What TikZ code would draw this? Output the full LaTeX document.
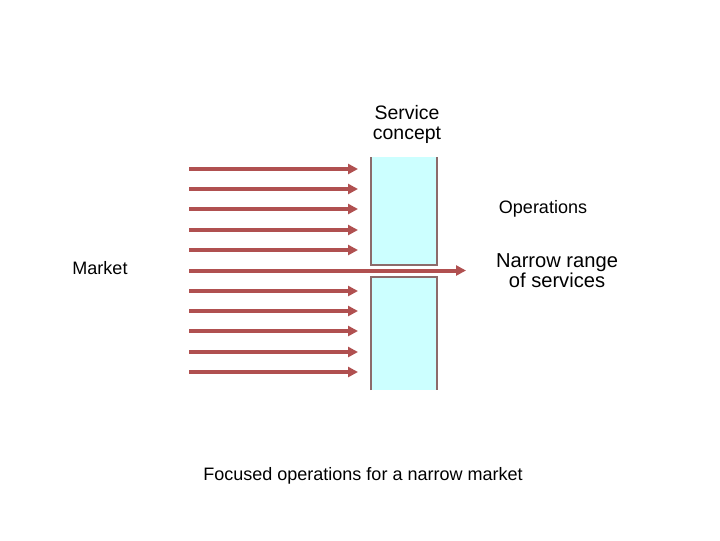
\documentclass[tikz,border=0pt]{standalone}
\usepackage{fontspec}
\setmainfont{Liberation Sans}
\usetikzlibrary{arrows.meta}
\definecolor{arrowred}{RGB}{176,80,80}
\definecolor{boxfill}{RGB}{204,255,255}
\definecolor{boxline}{RGB}{140,107,107}
\begin{document}
\begin{tikzpicture}[x=0.75pt,y=-0.75pt,
  flow/.style={draw=arrowred,line width=3pt,-{Triangle[length=7.5pt,width=7.5pt]}},
  label/.style={font=\fontsize{13.5pt}{14.5pt}\selectfont,align=center,inner sep=0pt},
  biglabel/.style={label,font=\fontsize{14.6pt}{15pt}\selectfont},
  hugelabel/.style={label,font=\fontsize{15.1pt}{15pt}\selectfont}]
\useasboundingbox (0,0) rectangle (720,540);
% boxes
\fill[boxfill] (371,157) rectangle (437,265);
\draw[boxline,line width=0.9pt] (371,157) -- (371,265) -- (437,265) -- (437,157);
\fill[boxfill] (371,277) rectangle (437,390);
\draw[boxline,line width=0.9pt] (371,390) -- (371,277) -- (437,277) -- (437,390);
% texts
\node[biglabel] (sc) at (407,124) {Service\\[0pt]concept};
\node[label] (op) at (543,209) {Operations};
\node[hugelabel] (nr) at (557,271) {Narrow range\\[0pt]of services};
\node[label] (mk) at (100,268) {Market};
\node[label] (fo) at (363,476) {Focused operations for a narrow market};
% arrows
\foreach \i/\y in {1/169,2/189,3/209,4/230,5/250,7/291,8/311,9/331,10/352,11/372}{
  \coordinate (s\i) at (189,\y);
  \coordinate (e\i) at (358,\y);
  \draw[flow] (s\i) -- (e\i);
}
\coordinate (s6) at (189,270.5);
\coordinate (e6) at (466,270.5);
\draw[flow] (s6) -- (e6);
\end{tikzpicture}
\end{document}
